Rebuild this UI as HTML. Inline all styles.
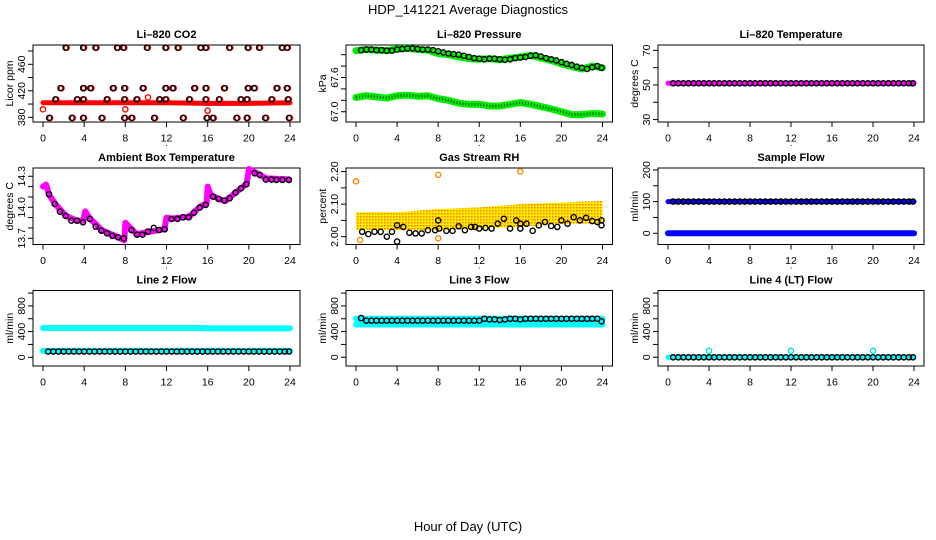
<!DOCTYPE html>
<html><head><meta charset="utf-8"><style>
html,body{margin:0;padding:0;background:#fff;}
svg{display:block;font-family:"Liberation Sans",Arial,sans-serif;}
</style></head><body>
<svg id="chart" width="936" height="540" viewBox="0 0 936 540" xmlns="http://www.w3.org/2000/svg">
<defs>
<pattern id="rhpat" width="3" height="3" patternUnits="userSpaceOnUse">
<rect width="3" height="3" fill="#ffee00"/><rect x="0" y="0" width="1.5" height="1.5" fill="#ff7700"/>
</pattern>
</defs>
<text x="468" y="14" font-size="13" text-anchor="middle">HDP_141221  Average Diagnostics</text>
<text x="468" y="531" font-size="13" text-anchor="middle">Hour of Day (UTC)</text>
</svg>
<script>
// ---- data ----
const xTicks = [0,4,8,12,16,20,24];
const halfHours = [0.5,1,1.5,2,2.5,3,3.5,4,4.5,5,5.5,6,6.5,7,7.5,8,8.5,9,9.5,10,10.5,11,11.5,12,12.5,13,13.5,14,14.5,15,15.5,16,16.5,17,17.5,18,18.5,19,19.5,20,20.5,21,21.5,22,22.5,23,23.5,23.9];
const hours = [0,1,2,3,4,5,6,7,8,9,10,11,12,13,14,15,16,17,18,19,20,21,22,23,24];

// CO2
const co2Hours = [2.2,3.9,5.1,7.2,7.8,10.1,11.9,13.1,15.3,15.8,18.1,19.9,21.0,23.2,23.7, 1.7,3.9,4.6,6.8,7.9,9.7,11.9,12.6,14.7,15.8,17.6,19.9,20.5,22.7,23.7, 1.2,3.3,3.9,6.2,7.9,9.1,11.3,11.9,14.2,15.8,17.1,19.2,19.8,22.2,23.8, 0.6,2.8,3.9,5.7,7.9,8.6,10.8,13.6,15.9,16.5,18.8,19.8,21.6,23.9];
const co2Values = [485,485,485,485,485,485,485,485,485,485,485,485,485,485,485, 424,424,424,424,424,424,424,424,424,424,424,424,424,424,424, 407,407,407,407,407,407,407,407,407,407,407,407,407,407,407, 379,379,379,379,379,379,379,379,379,379,379,379,379,379];
const co2BandHours = [0,4,8,12,16,20,24];
const co2BandValues = [402,402,402,402,401,401,402];
const co2OutHours = [0,8,10.2,16];
const co2OutValues = [392,392,410,390];

// Pressure
const presUpper = [68.07,68.09,68.08,68.07,68.1,68.11,68.09,68.08,68.02,68.0,67.96,67.93,67.92,67.93,67.91,67.94,67.96,67.99,67.94,67.9,67.84,67.79,67.75,67.8,67.77];
const presLower = [67.25,67.28,67.26,67.24,67.28,67.29,67.27,67.28,67.23,67.2,67.15,67.13,67.13,67.1,67.1,67.13,67.16,67.13,67.09,67.05,67.0,66.95,66.95,66.97,66.96];
const presBlack = [68.08,68.09,68.09,68.08,68.08,68.07,68.07,68.09,68.1,68.11,68.11,68.1,68.09,68.09,68.08,68.06,68.04,68.02,68.01,68.0,67.98,67.96,67.94,67.93,67.92,67.93,67.93,67.92,67.91,67.92,67.94,67.95,67.96,67.98,67.99,67.97,67.94,67.92,67.9,67.87,67.84,67.82,67.79,67.77,67.75,67.78,67.8,67.77];

// Li-820 temperature
const tempBand = [51,51,51,51,51,51,51,51,51,51,51,51,51,51,51,51,51,51,51,51,51,51,51,51,51];
const tempBlack = [51,51,51,51,51,51,51,51,51,51,51,51,51,51,51,51,51,51,51,51,51,51,51,51,51,51,51,51,51,51,51,51,51,51,51,51,51,51,51,51,51,51,51,51,51,51,51,51];

// Ambient
const ambHours = [0.58,1.14,1.65,2.2,2.76,3.3,3.89,4.54,5.12,5.67,6.22,6.74,7.29,7.84,8.59,9.13,9.66,10.2,10.76,11.27,11.83,12.48,13.06,13.6,14.16,14.67,15.23,15.81,16.52,17.07,17.63,18.14,18.7,19.24,19.76,20.57,21.06,21.65,22.2,22.68,23.26,23.9];
const ambValues = [14.126,14.032,13.958,13.916,13.871,13.871,13.855,13.887,13.813,13.774,13.748,13.723,13.71,13.7,13.78,13.735,13.735,13.765,13.8,13.78,13.787,13.887,13.887,13.903,13.903,13.948,13.997,14.023,14.103,14.081,14.065,14.087,14.142,14.184,14.223,14.329,14.313,14.268,14.268,14.265,14.265,14.265];
const ambBandHours = [0.0,0.3,0.6,1.2,2.2,3.3,3.9,4.1,4.5,5.7,7.3,7.9,8.0,8.4,9.1,10.2,11.8,12.0,12.5,14.2,15.2,15.9,16.0,16.3,17.1,17.7,18.7,19.8,20.0,20.6,21.7,23.9];
const ambBandValues = [14.2,14.22,14.12,14.03,13.92,13.87,13.87,13.96,13.9,13.78,13.71,13.68,13.85,13.81,13.74,13.76,13.79,13.9,13.89,13.91,14.0,14.04,14.2,14.12,14.08,14.06,14.14,14.23,14.37,14.34,14.28,14.27];

// Gas stream RH
const rhBandHours = [0,4,8,12,16,20,24];
const rhBandLow = [2.02,2.02,2.02,2.025,2.03,2.04,2.04];
const rhBandHigh = [2.075,2.075,2.085,2.09,2.1,2.105,2.11];
const rhOutHours = [0,8,16,0.4,8];
const rhOutValues = [2.17,2.19,2.2,1.99,1.995];
const rhHours = [0.6,1.2,1.8,2.4,3.0,3.5,4,4,4.6,5.2,5.8,6.4,7.0,7.7,8,8.1,8.8,9.4,10,10.6,11.2,11.6,12,12.6,13.2,13.8,14.4,15,15.6,16,16,16.6,17.2,17.8,18.4,19,19.6,20,20.6,21.2,21.8,22.4,23,23.5,23.9,23.9];
const rhValues = [2.015,2.008,2.015,2.015,2.0,2.015,2.035,1.985,2.03,2.012,2.01,2.01,2.02,2.02,2.05,2.025,2.018,2.018,2.032,2.02,2.03,2.03,2.025,2.027,2.025,2.04,2.055,2.025,2.05,2.04,2.025,2.04,2.018,2.035,2.045,2.033,2.03,2.05,2.04,2.06,2.05,2.058,2.048,2.045,2.035,2.05];

// Sample flow
const sfBlueHigh = [100,100,100,100,100,100,100,100,100,100,100,100,100,100,100,100,100,100,100,100,100,100,100,100,100];
const sfBlueLow = [0,0,0,0,0,0,0,0,0,0,0,0,0,0,0,0,0,0,0,0,0,0,0,0,0];
const sfBlack = [100,100,100,100,100,100,100,100,100,100,100,100,100,100,100,100,100,100,100,100,100,100,100,100,100,100,100,100,100,100,100,100,100,100,100,100,100,100,100,100,100,100,100,100,100,100,100,100];

// Line 2 flow
const l2CyanHigh = [455,455,455,455,455,455,455,455,455,455,455,455,455,455,455,455,450,450,450,450,450,450,450,450,450];
const l2CyanLow = [100,100,100,100,100,100,100,100,100,100,100,100,100,100,100,100,100,100,100,100,100,100,100,100,100];
const l2Black = [90,90,90,90,90,90,90,90,90,90,90,90,90,90,90,90,90,90,90,90,90,90,90,90,90,90,90,90,90,90,90,90,90,90,90,90,90,90,90,90,90,90,90,90,90,90,90,90];

// Line 3 flow
const l3CyanHigh = [600,600,600,600,600,600,600,600,600,600,600,600,600,600,600,600,600,600,600,600,600,600,600,600,600];
const l3CyanLow = [510,510,510,510,510,510,510,510,510,510,510,510,510,510,510,510,510,510,510,510,510,510,510,510,510];
const l3Black = [610,570,570,570,570,570,570,570,570,570,570,570,570,570,570,570,570,570,570,570,570,570,570,570,600,590,590,580,590,600,600,590,600,600,600,600,600,600,600,600,600,600,600,600,600,600,600,560];

// Line 4 flow
const l4Cyan = [0,0,0,0,0,0,0,0,0,0,0,0,0,0,0,0,0,0,0,0,0,0,0,0,0];
const l4SpikeHours = [4,12,20];
const l4SpikeValues = [100,100,100];
const l4Black = [0,0,0,0,0,0,0,0,0,0,0,0,0,0,0,0,0,0,0,0,0,0,0,0,0,0,0,0,0,0,0,0,0,0,0,0,0,0,0,0,0,0,0,0,0,0,0,0];

// ---- layout ----
const NS = "http://www.w3.org/2000/svg";
const svg = document.getElementById('chart');
const cols = [{l:33,r:300},{l:346,r:612.5},{l:658,r:924}];
const rows = [{t:45,b:122},{t:168,b:244.5},{t:290.5,b:366}];

function mk(tag, attrs, parent){
  const e = document.createElementNS(NS, tag);
  for (const k in attrs) e.setAttribute(k, attrs[k]);
  (parent||svg).appendChild(e);
  return e;
}

function panel(c, r, title, ylab, lo, hi, ticks, labels, name){
  const C = cols[c], R = rows[r];
  const g = mk('g', {});
  
  
  const P = {
    g: g,
    x: t => C.l + 10 + t*(C.r - C.l - 20)/24,
    y: v => R.b - (v-lo)/(hi-lo)*(R.b-R.t)
  };
  const box = mk('rect', {x:C.l, y:R.t, width:C.r-C.l, height:R.b-R.t, fill:'none', stroke:'#000', 'stroke-width':1}, g);
  
  
  const tt = mk('text', {x:(C.l+C.r)/2, y:R.t-7, 'font-size':11, 'font-weight':'bold', 'text-anchor':'middle'}, g);
  tt.textContent = title;
  
  
  const yl = mk('text', {x:C.l-20, y:(R.t+R.b)/2, 'font-size':10.5, 'text-anchor':'middle', transform:`rotate(-90 ${C.l-20} ${(R.t+R.b)/2})`}, g);
  yl.textContent = ylab;
  
  
  ticks.forEach(v => {
    const yy = P.y(v);
    const tk = mk('line', {x1:C.l-5, x2:C.l, y1:yy, y2:yy, stroke:'#000'}, g);
    
    
  });
  labels.forEach(v => {
    const yy = P.y(v);
    const lb = mk('text', {x:C.l-8, y:yy, 'font-size':10.5, 'text-anchor':'middle', transform:`rotate(-90 ${C.l-8} ${yy})`}, g);
    lb.textContent = (typeof v === 'number' && (lo>60 && lo<70)) ? v.toFixed(1) : (lo>13 && lo<14) ? v.toFixed(1) : (lo>1.5 && lo<3) ? v.toFixed(2) : String(v);
    
    
  });
  mk('line', {x1:P.x(0), x2:P.x(24), y1:R.b, y2:R.b, stroke:'#000'}, g);
  xTicks.forEach(t => {
    const xx = P.x(t);
    const tk = mk('line', {x1:xx, x2:xx, y1:R.b, y2:R.b+5, stroke:'#000'}, g);
    
    
    const lb = mk('text', {x:xx, y:R.b+19.5, 'font-size':10.5, 'text-anchor':'middle'}, g);
    lb.textContent = t;
    
    
  });
  if (r < 2) {
    const d = mk('text', {x:(C.l+C.r)/2, y:R.b+24, 'font-size':9, 'text-anchor':'middle'}, g);
    d.textContent = '.';
    
    
  }
  return P;
}

function band(P, ts, vs, color, w, name){
  const pts = ts.map((t,i) => P.x(t)+','+P.y(vs[i])).join(' ');
  const pl = mk('polyline', {points:pts, fill:'none', stroke:color, 'stroke-width':w, 'stroke-linejoin':'round', 'stroke-linecap':'round'}, P.g);
  
  
  return pl;
}
function dots(P, ts, vs, color, name, dx){
  ts.forEach((t,i) => {
    const c = mk('circle', {cx:P.x(t)+(dx||0), cy:P.y(vs[i]), r:2.6, fill:'none', stroke:color, 'stroke-width':1.4}, P.g);
    
    
  });
}

// CO2
let P = panel(0,0,'Li–820 CO2','Licor ppm',372.9,489.1,[380,400,420,440,460,480],[380,420,460],'co2-panel');
band(P, co2BandHours, co2BandValues, '#ff0000', 5, 'co2-red-band');
dots(P, co2Hours, co2Values, '#ff0000', 'co2-red-point', 1);
dots(P, co2OutHours, co2OutValues, '#ff0000', 'co2-red-outlier');
dots(P, co2Hours, co2Values, '#000', 'co2-black-point');

// Pressure
P = panel(1,0,'Li–820 Pressure','kPa',66.82,68.17,[67.0,67.2,67.4,67.6,67.8,68.0],[67.0,67.6],'pressure-panel');
band(P, hours, presUpper, '#00ee00', 7, 'pressure-green-upper');
band(P, hours, presLower, '#00ee00', 7, 'pressure-green-lower');
const pl1 = band(P, hours, presLower, '#005500', 3, 'pressure-lower-texture'); pl1.setAttribute('stroke-dasharray','1 2'); pl1.setAttribute('stroke-linecap','butt');
dots(P, halfHours, presBlack, '#000', 'pressure-black-point');

// Temperature
P = panel(2,0,'Li–820 Temperature','degrees C',28.6,73.1,[30,40,50,60,70],[30,50,70],'li820-temp-panel');
band(P, hours, tempBand, '#ff00ff', 5, 'temp-magenta-band');
dots(P, halfHours, tempBlack, '#000', 'temp-black-point');

// Ambient
P = panel(0,1,'Ambient Box Temperature','degrees C',13.64,14.38,[13.7,13.8,13.9,14.0,14.1,14.2,14.3],[13.7,14.0,14.3],'ambient-temp-panel');
band(P, ambBandHours, ambBandValues, '#ff00ff', 6, 'ambient-magenta-band');
dots(P, ambHours, ambValues, '#000', 'ambient-black-point');

// RH
P = panel(1,1,'Gas Stream RH','percent',1.976,2.211,[2.0,2.05,2.1,2.15,2.2],[2.0,2.1,2.2],'rh-panel');
{
  const top = rhBandHours.map((t,i)=>P.x(t)+','+P.y(rhBandHigh[i]));
  const bot = rhBandHours.map((t,i)=>P.x(t)+','+P.y(rhBandLow[i])).reverse();
  const pg = mk('polygon', {points:top.concat(bot).join(' '), fill:'url(#rhpat)'}, P.g);
  
  
}
dots(P, rhOutHours, rhOutValues, '#ff8800', 'rh-orange-outlier');
dots(P, rhHours, rhValues, '#000', 'rh-black-point');

// Sample flow
P = panel(2,1,'Sample Flow','ml/min',-35.4,206,[0,50,100,150,200],[0,100,200],'sample-flow-panel');
band(P, hours, sfBlueHigh, '#0000ff', 5, 'sample-flow-blue-high');
band(P, hours, sfBlueLow, '#0000ff', 6, 'sample-flow-blue-low');
dots(P, halfHours, sfBlack, '#000', 'sample-flow-black-point');

// Line 2
P = panel(0,2,'Line 2 Flow','ml/min',-136,1040,[0,200,400,600,800,1000],[0,400,800],'line2-flow-panel');
band(P, hours, l2CyanHigh, '#00ffff', 6, 'line2-cyan-high');
band(P, hours, l2CyanLow, '#00ffff', 6, 'line2-cyan-low');
dots(P, halfHours, l2Black, '#000', 'line2-black-point');

// Line 3
P = panel(1,2,'Line 3 Flow','ml/min',-136,1040,[0,200,400,600,800,1000],[0,400,800],'line3-flow-panel');
band(P, hours, l3CyanHigh, '#00ffff', 6, 'line3-cyan-high');
band(P, hours, l3CyanLow, '#00ffff', 6, 'line3-cyan-low');
dots(P, halfHours, l3Black, '#000', 'line3-black-point');

// Line 4
P = panel(2,2,'Line 4 (LT) Flow','ml/min',-136,1040,[0,200,400,600,800,1000],[0,400,800],'line4-flow-panel');
band(P, hours, l4Cyan, '#00ffff', 5, 'line4-cyan-band');
dots(P, l4SpikeHours, l4SpikeValues, '#00e5e5', 'line4-cyan-spike');
dots(P, halfHours, l4Black, '#000', 'line4-black-point');
</script>
</body></html>
